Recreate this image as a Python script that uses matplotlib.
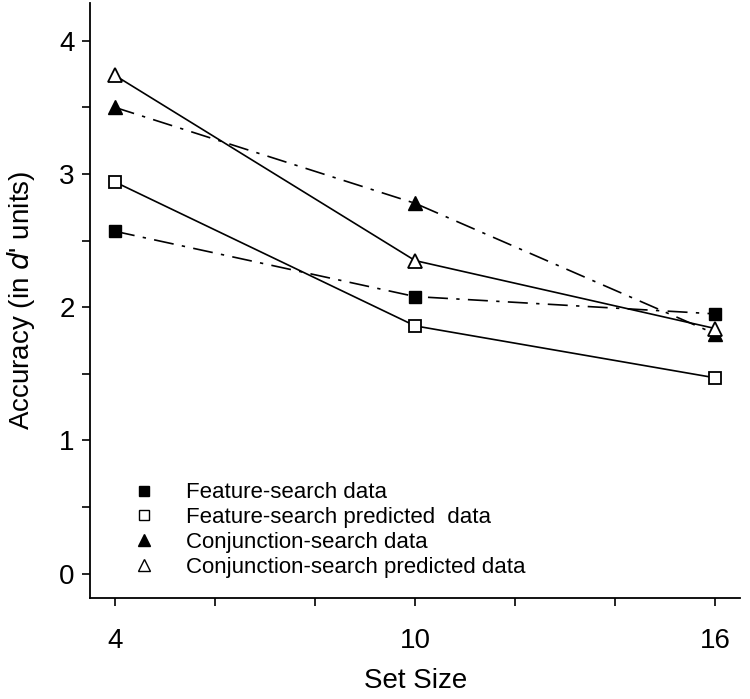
import matplotlib.pyplot as plt
from matplotlib.ticker import MultipleLocator

plt.rcParams['font.family'] = ['Liberation Sans', 'DejaVu Sans']

# data
set_size = [4, 10, 16]
feature_data = [2.57, 2.08, 1.95]
feature_pred = [2.94, 1.86, 1.47]
conj_data = [3.50, 2.78, 1.80]
conj_pred = [3.74, 2.35, 1.84]

fig = plt.figure(figsize=(7.5, 6.99), dpi=100)
ax = fig.add_axes([0.12, 0.145, 0.867, 0.85])

dashdot = (0, (12, 5, 2, 5))
lw = 1.2
ax.plot(set_size, feature_data, linestyle=dashdot, color='black', lw=lw,
        marker='s', ms=9, mfc='black', mec='black', label='Feature-search data')
ax.plot(set_size, feature_pred, linestyle='-', color='black', lw=lw,
        marker='s', ms=9, mfc='white', mec='black', mew=1.3, label='Feature-search predicted  data')
ax.plot(set_size, conj_data, linestyle=dashdot, color='black', lw=lw,
        marker='^', ms=10, mfc='black', mec='black', label='Conjunction-search data')
ax.plot(set_size, conj_pred, linestyle='-', color='black', lw=lw,
        marker='^', ms=10, mfc='white', mec='black', mew=1.3, label='Conjunction-search predicted data')

ax.set_xlim(3.5, 16.5)
ax.set_ylim(-0.18, 4.28)
ax.set_xticks(set_size)
ax.xaxis.set_minor_locator(MultipleLocator(2))
ax.yaxis.set_major_locator(MultipleLocator(1))
ax.yaxis.set_minor_locator(MultipleLocator(0.5))
ax.tick_params(axis='both', which='major', labelsize=20, length=6, width=1.2, direction='out')
ax.tick_params(axis='both', which='minor', length=6, width=1.2, direction='out')
ax.tick_params(axis='x', pad=16)
ax.tick_params(axis='y', pad=5)

for s in ['top', 'right']:
    ax.spines[s].set_visible(False)
for s in ['left', 'bottom']:
    ax.spines[s].set_linewidth(1.3)

ax.set_xlabel('Set Size', fontsize=20, labelpad=10)
ax.set_ylabel("Accuracy (in $d$' units)", fontsize=20, labelpad=16)

handles, labels = ax.get_legend_handles_labels()
leg_handles = []
for h in handles:
    hh = plt.Line2D([], [], linestyle='none', marker=h.get_marker(),
                    mfc=h.get_markerfacecolor(), mec='black',
                    ms=h.get_markersize() * 0.8)
    leg_handles.append(hh)
ax.legend(leg_handles, labels, loc='lower left', bbox_to_anchor=(0.032, 0.0),
          frameon=False, fontsize=16, handletextpad=1.3, labelspacing=0.17,
          handlelength=1.2)

fig.savefig('out.png', dpi=100)
